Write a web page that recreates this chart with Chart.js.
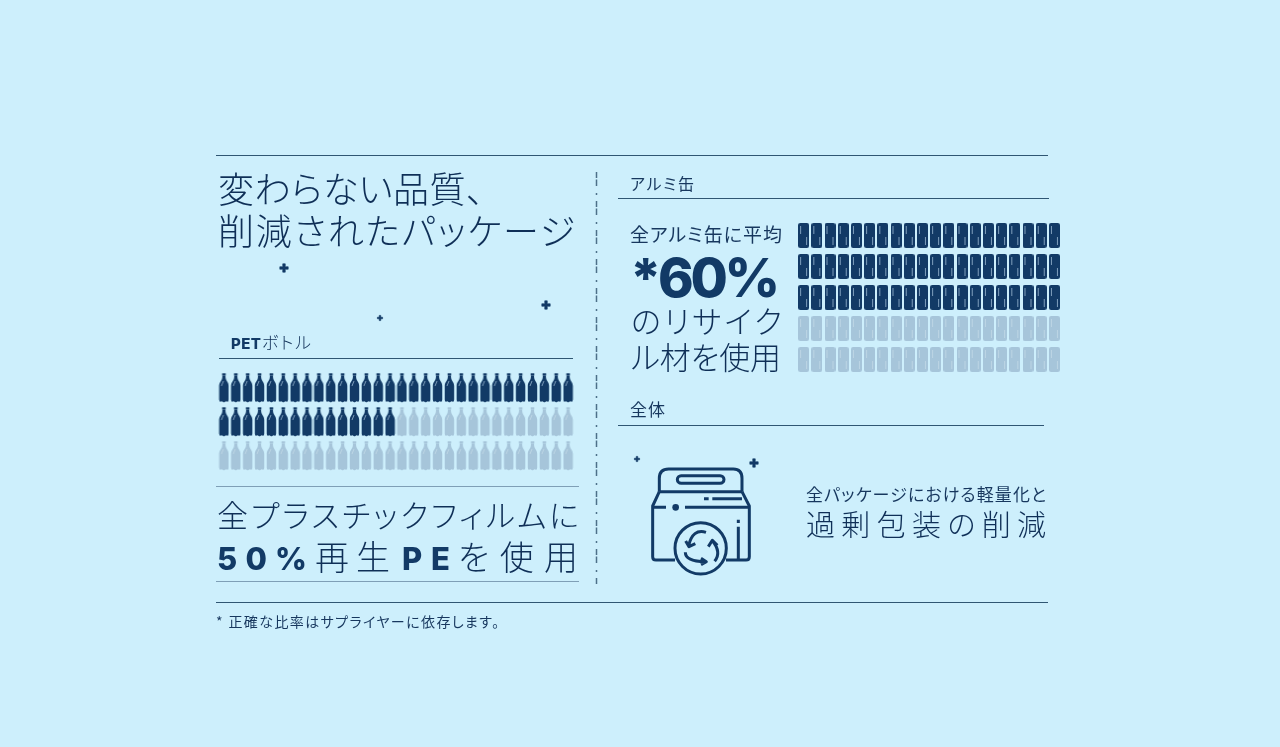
<!DOCTYPE html>
<html lang="ja"><head><meta charset="utf-8">
<style>
html,body{margin:0;padding:0;background:#cdeffc;width:1280px;height:747px;overflow:hidden}
.box{position:absolute}
svg{position:absolute;left:0;top:0}
text{font-family:"Noto Sans CJK JP","Noto Sans",sans-serif;font-weight:300;fill:#0f2f57;font-feature-settings:"palt"}
text.m{font-weight:400;fill:#17375e}
text.b{font-family:Inter,"Noto Sans",sans-serif;font-weight:800;fill:#123a66}
</style>
<script src="https://cdn.jsdelivr.net/npm/chart.js@4/dist/chart.umd.min.js"></script>
</head><body>
<div class="box" style="left:218px;top:371px;width:356px;height:102px"><canvas id="pet"></canvas></div>
<div class="box" style="left:797px;top:220px;width:264px;height:155px"><canvas id="can"></canvas></div>
<svg id="ov" width="1280" height="747" xmlns="http://www.w3.org/2000/svg">
<g fill="none" stroke="#2f5673">
<path d="M216 155.5H1048M216 602.5H1048" stroke-width="1"/>
<path d="M219 358.5H573" stroke-width="1"/>
<path d="M618 198.5H1049M618 425.5H1044" stroke-width="1"/>
<path d="M216 486.5H579M216 581.5H579" stroke="#7f9fb6" stroke-width="1"/>
<path d="M596.5 172V585" stroke="#4d7089" stroke-width="1.5" stroke-dasharray="6 1.5 6.5 7 2 6"/>
</g>
<g fill="#123a66" stroke="#123a66" stroke-width=".6" stroke-linejoin="round" id="sparks"></g>
<g transform="translate(620 445) scale(.3333)" fill="none" stroke="#123a66" stroke-width="9" stroke-linejoin="round">
<path d="M118 140V100Q118 72 146 72H340Q366 72 366 100V140M118 140H366"/>
<rect x="172" y="92" width="140" height="23" rx="11.5"/>
<path d="M118 140L98 183V335Q98 345 108 345H165M366 140L388 183V335Q388 345 378 345H318"/>
<path d="M98 187H138M195 187H388M252 161H266M277 161H366M355 224V234M355 245V345"/>
<circle cx="167" cy="187" r="10" fill="#123a66" stroke="none"/>
<circle cx="242" cy="310" r="77"/>
<path d="M258 262Q218 250 206 302M197 288L207 305L226 296"/>
<path d="M284 349Q306 322 276 286M265 305L277 286L292 301"/>
<path d="M196 322Q196 350 256 350M243 340L259 350L243 359"/>
</g>
</svg>
<script>
// Data: per-row counts of recycled and non-recycled units
const petRecycledByRow = [30, 15, 0];
const petVirginByRow   = [0, 15, 30];
const canRecycledByRow = [20, 20, 20, 0, 0];
const canVirginByRow   = [0, 0, 0, 20, 20];
const petColumns = 30;
const canColumns = 20;

const DARK = '#123a66', LIGHT = '#a6c5da';

function bottle(color, hi){
  const c = document.createElement('canvas'); c.width = 11; c.height = 30;
  const g = c.getContext('2d'); g.fillStyle = color;
  g.fillRect(3.7,0.3,3.6,2.2);
  g.beginPath();
  g.moveTo(4,2.5); g.lineTo(7,2.5); g.lineTo(7.2,5);
  g.bezierCurveTo(7.6,8,10.2,9,10.2,13);
  g.lineTo(10.2,26.5);
  g.quadraticCurveTo(10,29.5,8.4,28.4);
  g.quadraticCurveTo(7.2,28,6.4,29);
  g.quadraticCurveTo(5.5,29.7,4.6,29);
  g.quadraticCurveTo(3.8,28,2.6,28.4);
  g.quadraticCurveTo(1,29.5,.8,26.5);
  g.lineTo(.8,13);
  g.bezierCurveTo(.8,9,3.4,8,3.8,5);
  g.closePath(); g.fill();
  g.strokeStyle = hi; g.lineWidth = 1;
  g.beginPath(); g.moveTo(3,13); g.lineTo(5,8); g.stroke();
  return c;
}
function can(color, hi){
  const c = document.createElement('canvas'); c.width = 11; c.height = 25;
  const g = c.getContext('2d'); g.fillStyle = color;
  g.beginPath(); g.roundRect(0,0,11,25,2.2); g.fill();
  g.fillStyle = hi;
  g.fillRect(2,3,1,8); g.fillRect(8,14,1,8);
  return c;
}
function grid(byRow, offsets, cols){
  const pts = [];
  byRow.forEach((n,r)=>{ for(let i=0;i<n;i++) pts.push({x:(offsets[r]+i)%cols+1, y:r+1}); });
  return pts;
}
function waffle(id, recycled, virgin, cols, darkImg, lightImg){
  new Chart(document.getElementById(id),{
    type:'scatter',
    data:{datasets:[
      {label:'再生材',data:grid(recycled,recycled.map(()=>0),cols),pointStyle:darkImg,pointRadius:6,pointHoverRadius:6,clip:false},
      {label:'その他',data:grid(virgin,recycled,cols),pointStyle:lightImg,pointRadius:6,pointHoverRadius:6,clip:false}
    ]},
    options:{responsive:true,maintainAspectRatio:false,animation:false,
      layout:{padding:0,autoPadding:false},
      plugins:{legend:{display:false},tooltip:{enabled:false}},
      scales:{
        x:{display:false,min:.5,max:cols+.5},
        y:{display:false,min:.5,max:recycled.length+.5,reverse:true}
      }}
  });
}
waffle('pet',petRecycledByRow,petVirginByRow,petColumns,bottle(DARK,'#7f9fbd'),bottle(LIGHT,'#bdd6e5'));
waffle('can',canRecycledByRow,canVirginByRow,canColumns,can(DARK,'#7f9fbd'),can(LIGHT,'#bdd6e5'));

// Text: [string, x, baseline, size, targetWidth, class]
const labels = [
 ['変わらない品質、',218,203,36,266,''],
 ['削減されたパッケージ',218,245,36,357,''],
 ['PET',231,349,15,30,'b'],
 ['ボトル',262,349,17,49,''],
 ['アルミ缶',630,190,16,64,'m'],
 ['全アルミ缶に平均',630,242,19,152,'m'],
 ['*60%',630,297,54,150,'b'],
 ['のリサイク',631,333,31,151,''],
 ['ル材を使用',631,369,31,150,''],
 ['全体',630,416,17,35,'m'],
 ['全パッケージにおける軽量化と',806,501,17,240,'m'],
 ['過剰包装の削減',806,536,29,240,''],
 ['全プラスチックフィルムに',217,527,31,362,''],
 ['50%',217,570,31,90,'b'],
 ['再生',315,570,34,75,''],
 ['PE',402,570,31,48,'b'],
 ['を使用',458,570,34,120,''],
 ['* 正確な比率はサプライヤーに依存します。',216,627,14,283,'m']
];
const NS='http://www.w3.org/2000/svg', ov=document.getElementById('ov');
labels.forEach(([s,x,y,size,w,cls])=>{
  const t=document.createElementNS(NS,'text');
  t.textContent=s; t.setAttribute('x',x); t.setAttribute('y',y);
  t.setAttribute('font-size',size); t.setAttribute('textLength',w);
  t.setAttribute('lengthAdjust','spacing');
  if(cls) t.setAttribute('class',cls);
  ov.appendChild(t);
});
// Decorative sparkles: [cx, cy, half size]
[[284,268,4.2],[546,305,4.2],[380,318,2.6],[637,459,2.6],[754,463,4.2]].forEach(([x,y,r])=>{
  const p=document.createElementNS(NS,'path'), a=r*.3;
  p.setAttribute('d',`M${x-a} ${y-r}H${x+a}V${y-a}H${x+r}V${y+a}H${x+a}V${y+r}H${x-a}V${y+a}H${x-r}V${y-a}H${x-a}Z`);
  document.getElementById('sparks').appendChild(p);
});
</script>
</body></html>
